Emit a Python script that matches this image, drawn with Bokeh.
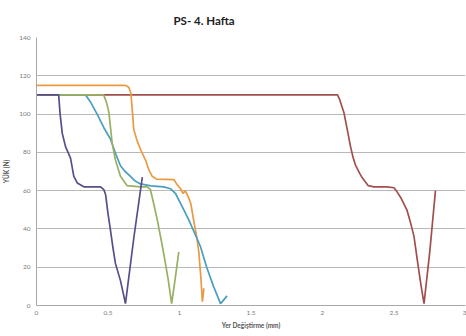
from bokeh.plotting import figure
from bokeh.models import Range1d, FixedTicker, Title
from bokeh.embed import file_html
from bokeh.resources import INLINE

title_text = "PS- 4. Hafta"
x_label = "Yer Değiştirme (mm)"
y_label = "YÜK (N)"
x_ticks = [0, 0.5, 1, 1.5, 2, 2.5, 3]
x_tick_labels = ["0", "0.5", "1", "1.5", "2", "2.5", "3"]
y_ticks = [0, 20, 40, 60, 80, 100, 120, 140]

purple_x = [0, 0.155, 0.165, 0.18, 0.203, 0.238, 0.261, 0.285, 0.331, 0.448, 0.471, 0.483, 0.5, 0.517, 0.535, 0.552, 0.587, 0.605, 0.622, 0.68, 0.74]
purple_y = [110, 110, 100, 90, 83, 77, 67.5, 64, 62, 62, 60.5, 58, 48, 39.5, 30, 22, 13, 7, 1, 35, 67]

green_x = [0, 0.47, 0.49, 0.506, 0.529, 0.552, 0.587, 0.634, 0.727, 0.774, 0.797, 0.82, 0.844, 0.87, 0.89, 0.92, 0.945, 0.97, 0.995]
green_y = [110, 110, 106, 101, 85, 76, 67.5, 62.6, 62, 62, 60.5, 53, 45, 35, 27, 14, 1, 14, 28]

teal_x = [0, 0.343, 0.38, 0.424, 0.47, 0.517, 0.555, 0.587, 0.62, 0.657, 0.69, 0.727, 0.8, 0.89, 0.937, 0.972, 1.019, 1.065, 1.112, 1.147, 1.19, 1.24, 1.287, 1.333]
teal_y = [110, 110, 106, 100, 93, 87, 79, 73, 70, 67.5, 65, 63.5, 62.5, 62, 61, 58.5, 51.7, 44.7, 36.8, 30.7, 20, 9.6, 1, 5]

orange_x = [0, 0.62, 0.645, 0.66, 0.672, 0.68, 0.704, 0.727, 0.762, 0.785, 0.809, 0.84, 0.96, 0.985, 1.007, 1.025, 1.04, 1.06, 1.08, 1.1, 1.12, 1.135, 1.15, 1.16, 1.165, 1.17]
orange_y = [115, 115, 114, 111, 100, 92, 86, 81.6, 76, 71, 67.5, 66, 65.8, 63, 61, 58.5, 60, 57, 53, 44, 36, 28, 14, 2, 5, 9]

red_x = [0, 2.105, 2.118, 2.149, 2.173, 2.196, 2.215, 2.23, 2.26, 2.278, 2.32, 2.36, 2.45, 2.5, 2.52, 2.55, 2.59, 2.62, 2.64, 2.67, 2.69, 2.71, 2.75, 2.79]
red_y = [110, 110, 108, 101, 92, 83, 77, 73.5, 69, 66.7, 62.6, 62, 62, 61.5, 59.5, 56, 50, 42, 36, 20, 10, 1, 28, 60]

series = [
    (red_x, red_y, "#a14f4d"),
    (orange_x, orange_y, "#e99a42"),
    (teal_x, teal_y, "#4a9fc0"),
    (green_x, green_y, "#98b062"),
    (purple_x, purple_y, "#5b4d8b"),
]

p = figure(width=466, height=336, output_backend="svg", toolbar_location=None,
           x_range=Range1d(0, 3), y_range=Range1d(0, 140),
           min_border_left=36, min_border_right=1, min_border_top=0, min_border_bottom=31)
p.title = None
t = Title(text=title_text, align="left", offset=137, text_font="Lato", text_font_size="11.5px",
          text_font_style="bold", text_color="#222222", standoff=22)
p.add_layout(t, "above")

for xs, ys, c in series:
    p.line(xs, ys, line_color=c, line_width=1.7)

p.outline_line_color = None
p.xgrid.grid_line_color = None
p.ygrid.grid_line_color = "#b8b8b8"
p.ygrid.grid_line_width = 1

p.xaxis.ticker = FixedTicker(ticks=x_ticks)
p.xaxis.major_label_overrides = {v: s for v, s in zip(x_ticks, x_tick_labels)}
p.yaxis.ticker = FixedTicker(ticks=y_ticks)

for ax in (p.xaxis[0], p.yaxis[0]):
    ax.axis_line_color = "#a8a8a8"
    ax.major_tick_line_color = None
    ax.minor_tick_line_color = None
    ax.major_tick_out = 0
    ax.major_tick_in = 0
    ax.minor_tick_out = 0
    ax.minor_tick_in = 0
    ax.major_label_text_font = "Lato"
    ax.major_label_text_font_size = "6.5px"
    ax.major_label_text_color = "#7a7a7a"
    ax.axis_label_text_font = "Lato"
    ax.axis_label_text_font_size = "6.5px"
    ax.axis_label_text_font_style = "bold"
    ax.axis_label_text_color = "#555555"

p.xaxis.axis_label = x_label
p.yaxis.axis_label = y_label
p.xaxis.major_label_standoff = 5
p.xaxis.axis_label_standoff = 4
p.yaxis.major_label_standoff = 6
p.yaxis.axis_label_standoff = 6

open("out.html", "w").write(file_html(p, INLINE))
